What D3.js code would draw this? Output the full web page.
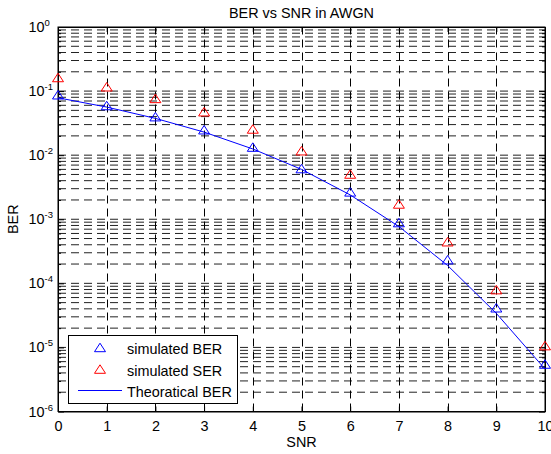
<!DOCTYPE html>
<html>
<head>
  <meta charset="utf-8">
  <title>BER vs SNR in AWGN</title>
  <script src="https://cdn.jsdelivr.net/npm/d3@7"></script>
  <style>
    body { margin: 0; background: #fff; }
    text { font-family: "Liberation Sans", Arial, sans-serif; fill: #000; }
  </style>
</head>
<body>
<script>
  // values
  const snr = [0, 1, 2, 3, 4, 5, 6, 7, 8, 9, 10];
  const berSim = [0.078, 0.053, 0.0355, 0.0222, 0.0119, 0.0055, 0.00238, 7.9e-4, 2.08e-4, 3.7e-5, 4.9e-6];
  const serSim = [0.145, 0.104, 0.0684, 0.0424, 0.0228, 0.01044, 0.00452, 0.00154, 3.97e-4, 7.1e-5, 9.5e-6];
  const berTheory = [0.0786, 0.0563, 0.0375, 0.0229, 0.0125, 0.006, 0.0024, 7.7e-4, 1.9e-4, 3.4e-5, 4.6e-6];
  const yExps = [-6, -5, -4, -3, -2, -1, 0];
  const legendLabels = ["simulated BER", "simulated SER", "Theoratical BER"];

  const W = 551, H = 454;
  const pL = 58, pR = 545, pT = 27, pB = 411.5;
  const fs = 14.4;

  const svg = d3.select("body").append("svg")
    .attr("width", W).attr("height", H);

  const x = d3.scaleLinear().domain([0, 10]).range([pL, pR]);
  const y = d3.scaleLog().domain([1e-6, 1]).range([pB, pT]);

  const majors = yExps.map(e => Math.pow(10, e));
  let minors = [];
  yExps.slice(0, -1).forEach(e => {
    for (let m = 2; m <= 9; m++) minors.push(m * Math.pow(10, e));
  });

  // grid
  const grid = svg.append("g").attr("stroke", "#000").attr("stroke-width", 1)
    .attr("stroke-dasharray", "8,5").attr("fill", "none");
  grid.selectAll(".hg").data(majors.concat(minors).filter(v => v > 1e-6 && v < 1))
    .enter().append("line")
    .attr("x1", pL).attr("x2", pR)
    .attr("y1", d => y(d)).attr("y2", d => y(d))
    .attr("stroke", "#222");
  grid.selectAll(".vg").data(snr.slice(1, -1))
    .enter().append("line")
    .attr("x1", d => Math.round(x(d)) + 0.5).attr("x2", d => Math.round(x(d)) + 0.5)
    .attr("y1", pB).attr("y2", pT);

  // axes ticks
  const xb = svg.append("g").attr("transform", `translate(0,${pB})`)
    .call(d3.axisBottom(x).tickValues(snr).tickSizeInner(-5).tickSizeOuter(0).tickPadding(9.5));
  xb.selectAll("text").style("font-size", fs + "px").style("font-family", "Liberation Sans, Arial, sans-serif");
  svg.append("g").attr("transform", `translate(0,${pT})`)
    .call(d3.axisTop(x).tickValues(snr).tickSizeInner(-5).tickSizeOuter(0).tickFormat(""));
  svg.append("g").attr("transform", `translate(${pL},0)`)
    .call(d3.axisLeft(y).tickValues(majors).tickSizeInner(-6).tickSizeOuter(0).tickFormat(""));
  svg.append("g").attr("transform", `translate(${pL},0)`)
    .call(d3.axisLeft(y).tickValues(minors).tickSizeInner(-3).tickSizeOuter(0).tickFormat(""));
  svg.append("g").attr("transform", `translate(${pR},0)`)
    .call(d3.axisRight(y).tickValues(majors).tickSizeInner(-6).tickSizeOuter(0).tickFormat(""));
  svg.append("g").attr("transform", `translate(${pR},0)`)
    .call(d3.axisRight(y).tickValues(minors).tickSizeInner(-3).tickSizeOuter(0).tickFormat(""));
  svg.selectAll(".domain").attr("stroke", "#000");
  svg.selectAll(".tick line").attr("stroke", "#000");

  // y tick labels 10^e
  const yl = svg.append("g").selectAll("text").data(yExps).enter().append("text")
    .attr("x", 28.5).attr("y", d => y(Math.pow(10, d)) + 5)
    .style("font-size", fs + "px");
  yl.append("tspan").text("10");
  yl.append("tspan").attr("dy", -6).style("font-size", "9.5px").text(d => d === 0 ? "0" : "-" + (-d));

  // frame
  svg.append("rect").attr("x", pL).attr("y", pT)
    .attr("width", pR - pL).attr("height", pB - pT)
    .attr("fill", "none").attr("stroke", "#000");

  // theory line
  const line = d3.line().x((d, i) => x(snr[i])).y(d => y(d));
  svg.append("path").attr("d", line(berTheory))
    .attr("fill", "none").attr("stroke", "#0000ff").attr("stroke-width", 1);

  const tri = "M0,-7.5L5.5,1L-5.5,1Z";
  svg.append("g").selectAll("path").data(berSim).enter().append("path")
    .attr("d", tri).attr("transform", (d, i) => `translate(${x(snr[i])},${y(d)})`)
    .attr("fill", "none").attr("stroke", "#0000ff");
  svg.append("g").selectAll("path").data(serSim).enter().append("path")
    .attr("d", tri).attr("transform", (d, i) => `translate(${x(snr[i])},${y(d)})`)
    .attr("fill", "none").attr("stroke", "#ff0000");

  // legend
  const lg = svg.append("g");
  lg.append("rect").attr("x", 68.5).attr("y", 335.5).attr("width", 169).attr("height", 68)
    .attr("fill", "#fff").attr("stroke", "#000");
  lg.append("path").attr("d", tri).attr("transform", "translate(100,350.7)")
    .attr("fill", "none").attr("stroke", "#0000ff");
  lg.append("path").attr("d", tri).attr("transform", "translate(100,372.3)")
    .attr("fill", "none").attr("stroke", "#ff0000");
  lg.append("line").attr("x1", 78).attr("x2", 122).attr("y1", 390.5).attr("y2", 390.5)
    .attr("stroke", "#0000ff");
  lg.selectAll("text").data(legendLabels).enter().append("text")
    .attr("x", 127).attr("y", (d, i) => [354.3, 376, 396.7][i])
    .style("font-size", fs + "px").text(d => d);

  // titles
  svg.append("text").attr("x", (pL + pR) / 2).attr("y", 17.5)
    .attr("text-anchor", "middle").style("font-size", fs + "px").text("BER vs SNR in AWGN");
  svg.append("text").attr("x", (pL + pR) / 2).attr("y", 447)
    .attr("text-anchor", "middle").style("font-size", fs + "px").text("SNR");
  svg.append("text").attr("transform", `translate(17.5,${(pT + pB) / 2}) rotate(-90)`)
    .attr("text-anchor", "middle").style("font-size", fs + "px").text("BER");
</script>
</body>
</html>
